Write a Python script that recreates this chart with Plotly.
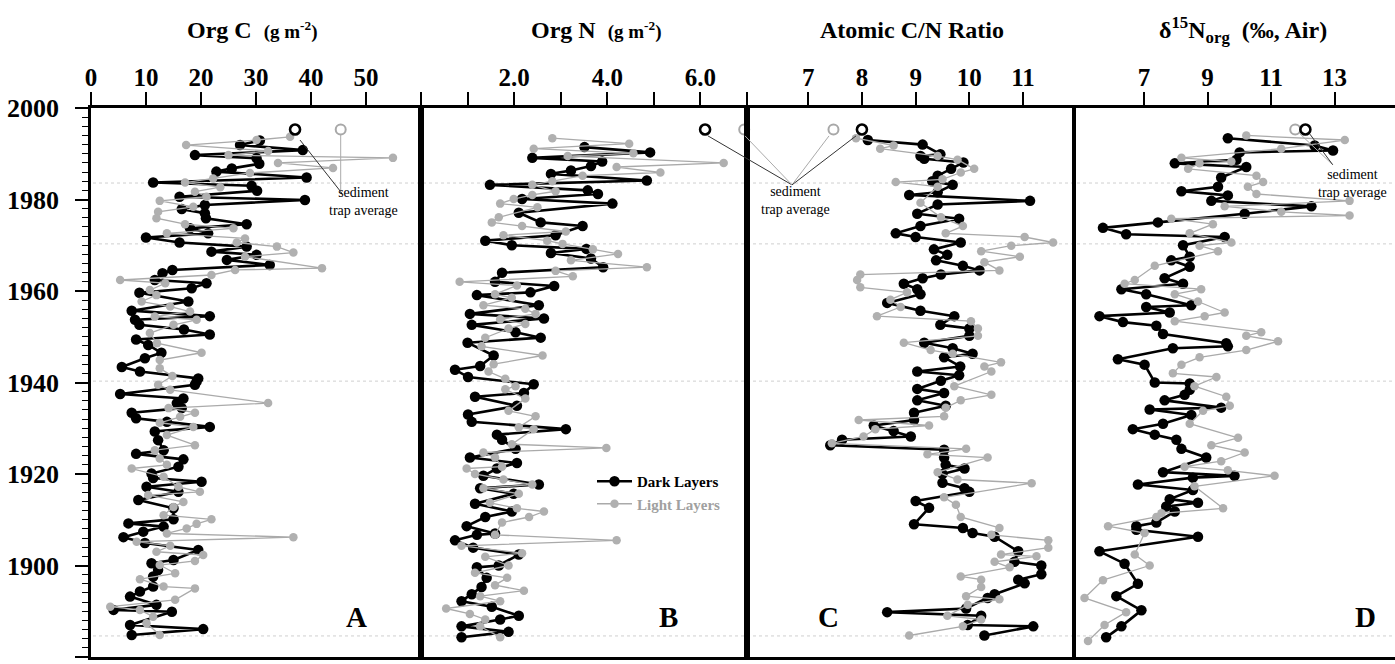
import plotly.graph_objects as go

# ---------------- data ----------------
# Panel A: Org C (g m-2)
A_dark_year = [1992.9,1991.9,1990.8,1989.7,1989.0,1987.8,1986.8,1986.1,1984.8,1983.7,1983.0,1981.9,1980.6,1979.9,1978.8,1977.9,1977.0,1975.9,1974.6,1973.7,1972.6,1971.7,1970.6,1969.7,1968.6,1967.9,1966.8,1965.7,1964.6,1963.9,1962.4,1961.7,1960.6,1959.6,1957.7,1955.7,1954.5,1953.7,1952.6,1951.6,1950.5,1949.4,1948.2,1946.5,1945.3,1943.4,1942.4,1940.9,1940.2,1939.5,1937.5,1936.5,1935.5,1934.4,1933.4,1932.2,1931.4,1930.3,1929.3,1927.4,1925.2,1924.4,1923.2,1921.6,1920.1,1919.1,1918.3,1917.2,1916.1,1914.3,1912.5,1910.1,1909.2,1908.5,1907.4,1906.2,1904.9,1903.4,1901.2,1900.5,1899.0,1897.6,1895.4,1894.3,1893.2,1891.4,1890.3,1889.9,1887.0,1886.1,1884.8]
A_dark_orgC = [30.7,27.1,38.5,18.9,30.1,30.6,25.6,22.8,39.2,11.3,29.2,30.2,16.1,38.9,20.7,16.5,20.7,20.9,28.3,18.0,21.3,10.0,16.1,28.3,21.9,30.1,24.7,32.5,14.8,13.0,11.6,21.0,18.3,8.8,17.7,7.4,21.6,8.0,8.8,16.9,21.6,8.2,10.4,12.8,9.8,5.6,8.9,19.5,19.2,18.9,5.3,16.8,15.6,16.5,7.4,8.2,13.8,21.6,11.6,12.2,13.2,8.2,16.8,15.9,11.0,11.3,20.1,10.1,15.9,8.6,15.0,15.0,6.8,13.2,9.5,5.9,9.8,19.5,15.0,11.0,12.2,11.3,11.3,8.9,7.1,11.9,4.1,14.7,7.1,20.4,7.4]
A_light_year = [1993.7,1993.0,1991.9,1990.6,1989.7,1989.1,1988.0,1986.9,1985.8,1984.6,1983.7,1982.7,1981.7,1980.6,1979.7,1978.4,1977.3,1975.9,1974.6,1973.7,1972.6,1971.5,1970.6,1969.7,1968.4,1967.5,1965.0,1964.6,1963.5,1962.4,1961.7,1960.2,1959.1,1957.7,1956.6,1955.5,1954.4,1953.7,1952.6,1950.8,1948.6,1946.5,1944.9,1943.1,1941.4,1939.5,1938.4,1935.5,1934.4,1933.4,1932.5,1931.2,1930.3,1928.5,1926.3,1925.2,1923.4,1922.0,1921.2,1919.4,1917.2,1916.1,1915.4,1913.9,1912.8,1911.0,1910.1,1909.1,1908.1,1907.0,1906.2,1905.2,1904.3,1903.0,1902.3,1901.0,1900.1,1898.3,1897.0,1895.4,1895.0,1892.5,1891.0,1890.3,1888.8,1887.4,1884.8]
A_light_orgC = [36.2,30.1,17.3,32.2,25.0,54.9,34.0,44.0,28.9,22.2,17.1,23.5,18.9,21.0,12.5,18.6,12.2,11.9,17.1,25.9,13.8,28.0,26.5,33.8,36.8,28.0,42.0,26.2,21.9,5.3,13.5,10.7,11.9,9.2,14.4,18.0,11.6,19.2,15.0,10.7,12.0,20.1,12.5,12.5,14.8,12.2,14.4,32.2,14.1,18.9,16.2,12.5,18.6,13.8,18.9,11.6,12.5,13.8,7.4,13.2,15.9,19.8,10.4,16.8,15.0,13.2,21.9,19.2,17.4,13.8,36.8,8.3,14.4,11.9,20.4,18.9,12.5,15.3,8.9,13.2,18.9,15.3,3.5,8.9,11.3,10.1,12.5]

# Panel B: Org N (g m-2)
B_dark_year = [1991.45,1990.3,1989.1,1988.3,1987.3,1986.35,1985.6,1984.15,1983.2,1982.0,1981.2,1980.1,1979.1,1977.1,1975.0,1974.2,1972.2,1971.0,1970.0,1969.2,1968.3,1967.1,1965.2,1964.0,1962.0,1961.1,1959.7,1959.1,1956.9,1955.0,1954.0,1952.6,1951.0,1949.8,1948.7,1945.9,1943.6,1942.8,1941.2,1939.6,1937.7,1936.9,1934.9,1933.0,1931.4,1929.8,1928.6,1927.5,1925.5,1923.6,1922.4,1921.2,1919.6,1917.7,1916.9,1915.7,1913.5,1911.8,1910.6,1908.6,1907.0,1906.7,1905.5,1903.9,1902.4,1900.0,1899.6,1897.3,1895.3,1893.7,1892.2,1891.0,1889.0,1888.2,1886.7,1885.5,1884.3]
B_dark_orgN = [3.51,4.92,2.39,3.89,3.65,3.22,2.79,4.85,1.48,3.58,3.80,2.17,4.11,2.10,2.57,3.47,2.89,1.38,1.95,3.55,2.79,3.65,3.91,1.74,1.59,2.86,2.35,1.20,2.53,1.05,2.64,1.09,2.03,2.57,1.00,1.56,1.27,0.73,1.01,2.42,2.21,1.16,2.06,1.01,1.09,3.11,1.63,1.74,2.03,1.05,2.06,1.63,1.34,2.53,1.27,1.99,1.16,1.95,1.38,0.98,1.59,1.20,0.73,1.12,2.10,1.67,1.20,1.41,1.30,1.09,0.87,1.52,2.10,1.70,0.87,1.88,0.87]
B_light_year = [1993.4,1992.2,1991.1,1990.1,1989.5,1988.0,1987.1,1985.9,1985.2,1984.0,1983.2,1981.8,1981.0,1980.1,1979.1,1978.3,1976.1,1975.0,1974.2,1973.0,1972.2,1971.0,1970.3,1969.1,1968.1,1966.7,1965.2,1964.4,1963.2,1962.0,1961.2,1959.3,1958.5,1956.9,1956.1,1955.0,1953.8,1952.8,1951.8,1949.8,1947.9,1945.9,1944.0,1942.4,1940.8,1939.2,1938.5,1936.5,1933.8,1932.6,1930.2,1929.8,1926.5,1925.7,1924.7,1923.6,1921.6,1921.2,1920.0,1918.8,1917.7,1916.9,1915.7,1913.7,1912.5,1911.8,1910.6,1909.4,1906.7,1905.5,1904.3,1902.7,1901.9,1900.0,1898.4,1897.3,1895.7,1894.5,1893.3,1892.2,1890.6,1889.4,1888.2,1886.7,1884.3]
B_light_orgN = [2.82,4.47,2.42,4.56,3.15,6.50,4.20,5.14,3.47,2.82,2.39,2.89,2.39,1.99,1.70,2.50,1.67,1.52,2.17,3.11,1.77,2.71,3.04,3.69,4.23,3.22,4.85,2.89,3.26,0.83,2.06,1.59,1.95,1.34,2.24,2.46,1.70,2.24,1.88,1.38,1.30,2.61,1.56,1.45,1.81,2.03,1.81,2.24,1.88,2.46,2.10,2.42,1.95,3.98,1.34,1.59,1.74,0.98,1.16,1.77,2.39,1.34,2.10,1.48,2.06,2.64,2.32,1.74,1.59,4.20,0.87,2.17,1.38,1.88,1.16,1.85,1.59,2.21,1.27,1.70,0.54,1.05,1.38,1.27,1.70]

# Panel C: Atomic C/N ratio
C_dark_year = [1993.0,1992.0,1989.9,1989.5,1988.9,1988.1,1986.7,1985.2,1984.0,1983.2,1981.6,1981.0,1979.7,1978.9,1976.9,1975.8,1974.2,1972.6,1971.8,1970.6,1969.1,1967.9,1966.7,1965.5,1964.5,1963.6,1962.8,1961.6,1960.4,1959.3,1957.4,1955.7,1954.5,1952.6,1951.8,1950.2,1948.7,1947.5,1946.3,1945.5,1943.5,1942.4,1941.6,1940.4,1938.6,1937.7,1936.1,1934.9,1933.4,1931.8,1930.6,1929.4,1928.2,1927.5,1926.3,1925.3,1923.6,1922.0,1921.2,1920.0,1918.1,1916.9,1916.1,1914.1,1912.6,1909.0,1908.2,1907.1,1906.3,1903.1,1900.8,1900.0,1898.1,1896.9,1896.1,1893.7,1892.9,1890.6,1889.8,1889.0,1887.0,1886.7,1884.7]
C_dark_cn = [8.11,9.13,9.46,9.09,9.16,9.89,9.66,9.41,9.31,9.69,9.41,8.88,11.13,9.41,9.03,9.81,9.09,8.63,9.00,9.84,9.34,9.59,9.38,9.88,10.19,9.47,9.13,8.78,9.03,9.09,8.47,9.09,9.72,9.46,10.0,10.0,9.16,9.69,10.06,9.53,9.83,9.03,9.81,9.47,9.03,9.53,9.03,9.56,8.97,8.97,8.22,8.59,8.91,7.63,7.41,9.53,9.53,9.56,9.91,9.50,9.50,9.91,10.0,9.00,9.25,8.97,9.88,10.06,10.47,10.91,10.84,11.34,11.34,10.91,11.03,10.47,10.34,9.94,8.47,10.22,9.97,11.19,10.28]
C_light_year = [1993.4,1991.8,1991.1,1989.5,1988.7,1986.7,1985.9,1984.4,1983.8,1982.8,1979.3,1976.1,1974.2,1972.6,1971.8,1970.6,1969.9,1968.7,1967.5,1966.3,1964.5,1963.6,1962.4,1960.8,1959.7,1958.1,1956.5,1954.5,1953.4,1951.8,1950.2,1948.7,1947.1,1946.3,1944.4,1943.5,1942.4,1939.2,1937.3,1936.1,1934.5,1932.6,1931.8,1930.6,1929.8,1928.2,1926.7,1925.5,1924.3,1923.6,1920.4,1918.8,1918.0,1914.9,1913.3,1910.6,1908.2,1906.7,1905.5,1903.9,1902.4,1902.0,1900.8,1899.6,1897.6,1896.9,1895.3,1893.3,1892.6,1891.4,1889.0,1888.2,1886.7,1884.7]
C_light_cn = [7.89,8.59,8.34,9.41,9.78,10.09,9.84,9.50,8.63,9.41,9.09,9.47,9.88,9.56,11.03,11.56,10.78,10.22,10.94,10.28,10.56,7.97,7.91,7.97,8.84,8.53,8.72,8.28,10.03,10.16,10.16,8.78,9.28,9.69,10.59,10.28,10.41,9.72,10.41,9.84,9.56,9.53,7.94,9.25,8.25,8.03,7.44,9.94,9.22,10.34,9.41,9.78,11.16,9.53,9.75,9.84,10.56,10.41,11.47,11.47,10.59,11.25,10.47,10.75,9.84,10.22,10.22,9.94,10.56,9.97,9.59,10.22,9.88,8.88]

# Panel D: delta15N org (permil, Air)
D_dark_year = [1993.4,1991.8,1990.7,1990.3,1988.7,1987.9,1987.1,1984.8,1982.8,1981.8,1980.9,1979.7,1978.5,1976.9,1975.0,1973.8,1972.4,1971.8,1970.0,1967.5,1966.7,1965.3,1962.8,1961.6,1960.4,1959.3,1956.9,1956.5,1955.3,1954.5,1953.2,1952.4,1950.6,1948.6,1947.9,1947.5,1945.1,1943.9,1940.0,1939.8,1938.4,1937.3,1936.1,1934.5,1934.1,1932.9,1931.0,1929.8,1928.6,1927.5,1925.5,1923.6,1920.4,1919.6,1919.2,1917.7,1916.5,1914.5,1913.7,1912.9,1911.8,1909.4,1908.6,1907.8,1906.3,1903.1,1900.4,1896.0,1893.3,1890.2,1886.7,1884.3]
D_dark_d15n = [9.64,12.37,12.95,10.01,9.91,7.97,10.22,9.43,9.33,8.18,9.64,9.12,12.27,10.17,7.44,5.71,6.44,9.54,8.23,8.44,7.86,8.44,7.65,8.23,6.29,7.07,8.49,7.07,7.81,5.60,6.34,7.39,7.60,9.59,9.64,7.91,6.18,7.02,7.34,8.44,8.44,8.28,7.65,9.43,7.18,8.49,7.60,6.65,7.34,8.02,8.18,8.96,7.60,9.85,8.54,6.81,8.54,7.81,8.70,7.70,7.97,7.39,6.76,6.76,8.70,5.60,6.39,6.81,6.13,6.92,6.29,5.81]
D_light_year = [1994.0,1993.0,1991.1,1989.1,1988.3,1987.9,1986.7,1985.2,1983.8,1982.8,1981.2,1979.7,1978.5,1977.3,1976.5,1975.8,1974.6,1972.6,1970.6,1969.9,1968.7,1965.5,1962.4,1961.6,1960.4,1959.3,1957.7,1955.3,1954.5,1953.4,1951.0,1950.2,1949.0,1947.1,1945.5,1943.9,1942.0,1941.2,1939.2,1936.9,1934.9,1933.8,1931.0,1927.9,1926.3,1924.7,1922.8,1921.6,1920.8,1919.6,1917.3,1912.5,1911.4,1910.6,1908.6,1907.1,1902.4,1900.0,1896.8,1892.9,1889.8,1887.0,1883.5]
D_light_d15n = [10.22,13.32,11.32,8.18,9.75,8.75,8.39,10.54,10.75,10.27,10.54,13.47,9.54,11.32,13.47,7.86,9.17,8.44,9.75,8.75,9.33,7.34,6.71,6.39,8.80,7.97,8.70,9.54,8.91,7.97,10.69,10.22,11.22,10.22,8.75,8.18,7.91,9.28,8.59,9.59,9.70,8.86,8.44,9.96,9.12,10.17,9.43,8.28,9.64,11.11,8.59,9.49,7.55,7.39,5.87,7.02,6.71,7.18,5.71,5.13,6.44,5.76,5.24]

# Sediment-trap averages (dark, light) per panel
trap_year = 1995.3
trap_A = [37.1, 45.4]
trap_B = [6.1, 6.94]
trap_C = [8.0, 7.47]
trap_D = [12.08, 11.76]

# Marker horizons (dotted lines)
horizon_years = [1983.6, 1970.3, 1940.3, 1884.6]

# Axis ticks
A_ticks = [0, 10, 20, 30, 40, 50, 60]
A_ticktext = ["0", "10", "20", "30", "40", "50", ""]
B_ticks = [0, 1, 2, 3, 4, 5, 6, 7]
B_ticktext = ["", "", "2.0", "", "4.0", "", "6.0", ""]
C_ticks = [7, 8, 9, 10, 11]
D_ticks = [7, 9, 11, 13]

# ---------------- figure ----------------
W, H = 1395, 664
FONT = "Liberation Serif"
DARK = "#000000"
LIGHT = "#aaaaaa"

def px(x):
    return x / W

top_px, bot_px = 108, 657
ydom = [1 - bot_px / H, 1 - top_px / H]

panels = [
    ("x", "y", [px(91), px(421)], [0, 60], A_ticks, A_ticktext,
     A_dark_year, A_dark_orgC, A_light_year, A_light_orgC, trap_A),
    ("x2", "y2", [px(421), px(747)], [0, 7], B_ticks, B_ticktext,
     B_dark_year, B_dark_orgN, B_light_year, B_light_orgN, trap_B),
    ("x3", "y3", [px(747), px(1073)], [5.86, 11.93], C_ticks, [str(t) for t in C_ticks],
     C_dark_year, C_dark_cn, C_light_year, C_light_cn, trap_C),
    ("x4", "y4", [px(1075), 1.0], [4.83, 14.9], D_ticks, [str(t) for t in D_ticks],
     D_dark_year, D_dark_d15n, D_light_year, D_light_d15n, trap_D),
]

fig = go.Figure()
layout = dict(
    width=W, height=H, autosize=False, margin=dict(l=0, r=0, t=0, b=0, pad=0),
    paper_bgcolor="white", plot_bgcolor="white",
    font=dict(family=FONT, color="black"),
    showlegend=True,
    legend=dict(x=px(592), y=1 - 465 / H, xanchor="left", yanchor="top",
                bgcolor="rgba(0,0,0,0)", font=dict(family=FONT, size=15),
                tracegroupgap=0, itemwidth=35),
)

for i, (xa, ya, dom, rng, tv, tt, dy, dv, ly, lv, trap) in enumerate(panels):
    n = "" if i == 0 else str(i + 1)
    layout["xaxis" + n] = dict(
        domain=dom, range=rng, side="top", anchor=ya, automargin=False,
        showline=True, linewidth=2.5, linecolor="black", mirror=True,
        ticks="outside", ticklen=13, tickwidth=2, tickcolor="black",
        tickmode="array", tickvals=tv, ticktext=tt,
        tickfont=dict(family=FONT, size=25, weight="bold"),
        ticklabelstandoff=-4,
        showgrid=False, zeroline=False, fixedrange=True,
    )
    yax = dict(
        domain=ydom, range=[1880, 2000], anchor=xa, automargin=False,
        showline=True, linewidth=2.5, linecolor="black",
        showgrid=False, zeroline=False,
    )
    if i == 0:
        yax.update(ticks="outside", ticklen=13, tickwidth=2, tickcolor="black",
                   tick0=1880, dtick=20, mirror=True,
                   tickfont=dict(family=FONT, size=26, weight="bold"),
                   ticklabelstandoff=11,
                   minor=dict(dtick=2, ticks="outside", ticklen=6, tickwidth=1.3,
                              tickcolor="black"))
    else:
        yax.update(showticklabels=False, ticks="", mirror=(i < 3))
    layout["yaxis" + n] = yax

    # dark layers
    fig.add_trace(go.Scatter(
        x=dv, y=dy, xaxis=xa, yaxis=ya, mode="lines+markers",
        line=dict(color=DARK, width=2.6),
        marker=dict(color=DARK, size=10.5),
        name="<b>Dark Layers</b>", legendrank=1, showlegend=(i == 1),
        cliponaxis=False,
    ))
    # light layers
    fig.add_trace(go.Scatter(
        x=lv, y=ly, xaxis=xa, yaxis=ya, mode="lines+markers",
        line=dict(color=LIGHT, width=1.3),
        marker=dict(color="#b0b0b0", size=8.5),
        name="<span style='color:#a0a0a0'><b>Light Layers</b></span>",
        legendrank=2, showlegend=(i == 1), cliponaxis=False,
    ))
    # sediment trap averages
    fig.add_trace(go.Scatter(
        x=[trap[1]], y=[trap_year], xaxis=xa, yaxis=ya, mode="markers",
        marker=dict(symbol="circle-open", color="#a8a8a8", size=10,
                    line=dict(width=2)),
        showlegend=False, cliponaxis=False,
    ))
    fig.add_trace(go.Scatter(
        x=[trap[0]], y=[trap_year], xaxis=xa, yaxis=ya, mode="markers",
        marker=dict(symbol="circle-open", color="black", size=10,
                    line=dict(width=2.6)),
        showlegend=False, cliponaxis=False,
    ))

fig.update_layout(**layout)

shapes = []
for yr in horizon_years:
    shapes.append(dict(type="line", xref="paper", yref="y", x0=px(93), x1=1.0,
                       y0=yr, y1=yr, line=dict(color="#cfcfcf", width=1, dash="dot"),
                       layer="below"))

# annotation leader lines
# panel A
shapes.append(dict(type="line", xref="x", yref="y", x0=38.0, y0=1993.0, x1=45.6, y1=1981.4,
                   line=dict(color="#333333", width=1)))
shapes.append(dict(type="line", xref="x", yref="y", x0=45.4, y0=1994.2, x1=45.4, y1=1981.4,
                   line=dict(color="#aaaaaa", width=1)))
# panels B/C
conv = (px(792), 1983.2)
for x0, col in [(px(708), "#333333"), (px(745), "#aaaaaa"), (px(829), "#aaaaaa"), (px(856), "#333333")]:
    shapes.append(dict(type="line", xref="paper", yref="y", x0=x0, y0=1993.9,
                       x1=conv[0], y1=conv[1], line=dict(color=col, width=1)))
# panel D
shapes.append(dict(type="line", xref="x4", yref="y", x0=11.9, y0=1994.4, x1=12.94, y1=1987.6,
                   line=dict(color="#aaaaaa", width=1)))
shapes.append(dict(type="line", xref="x4", yref="y", x0=12.22, y0=1994.3, x1=12.94, y1=1987.6,
                   line=dict(color="#333333", width=1)))
fig.update_layout(shapes=shapes)

ann = []
titles = [
    (252, "<b>Org C</b>  <b><span style='font-size:19px'>(g m<sup>-2</sup>)</span></b>"),
    (596, "<b>Org N</b>  <b><span style='font-size:19px'>(g m<sup>-2</sup>)</span></b>"),
    (912, "<b>Atomic C/N Ratio</b>"),
    (1243, "<b>δ<sup>15</sup>N<sub>org</sub>  (‰, Air)</b>"),
]
for x, t in titles:
    ann.append(dict(text=t, x=px(x), y=1 - 30 / H, xref="paper", yref="paper",
                    xanchor="center", yanchor="middle", showarrow=False,
                    font=dict(family=FONT, size=24, color="black")))
for x, t in [(356, "A"), (668, "B"), (828, "C"), (1365, "D")]:
    ann.append(dict(text="<b>" + t + "</b>", x=px(x), y=1 - 617 / H, xref="paper", yref="paper",
                    xanchor="center", yanchor="middle", showarrow=False,
                    font=dict(family=FONT, size=29, color="black")))
for x, yr in [(364, 1979.5), (795, 1979.7), (1352, 1983.5)]:
    ann.append(dict(text="sediment<br>trap average", x=px(x), y=yr, xref="paper", yref="y",
                    xanchor="center", yanchor="middle", showarrow=False,
                    font=dict(family=FONT, size=14, color="black")))
fig.update_layout(annotations=ann)

fig.write_html("out.html", config={"displayModeBar": False},
               post_script="document.body.style.margin='0px';document.body.style.overflow='hidden';")
